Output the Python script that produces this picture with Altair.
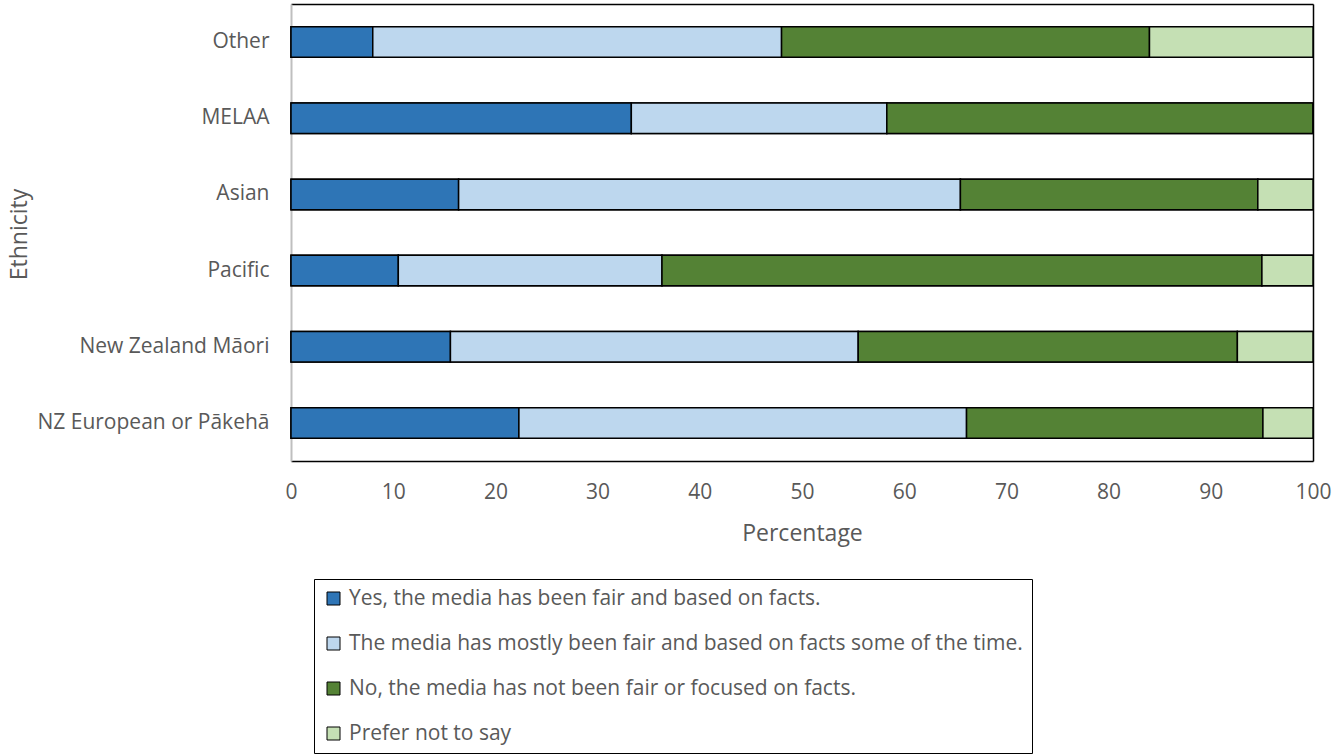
import altair as alt
import pandas as pd

ethnicities = ["Other", "MELAA", "Asian", "Pacific", "New Zealand Māori", "NZ European or Pākehā"]
responses = [
    "Yes, the media has been fair and based on facts.",
    "The media has mostly been fair and based on facts some of the time.",
    "No, the media has not been fair or focused on facts.",
    "Prefer not to say",
]
colors = ["#2E75B6", "#BDD7EE", "#548235", "#C5E0B4"]

yes_vals = [8.0, 33.3, 16.4, 10.5, 15.6, 22.3]
mostly_vals = [40.0, 25.0, 49.1, 25.8, 39.9, 43.8]
no_vals = [36.0, 41.7, 29.1, 58.7, 37.1, 29.0]
prefer_vals = [16.0, 0.0, 5.4, 5.0, 7.4, 4.9]

rows = []
for i, e in enumerate(ethnicities):
    for j, (r, vals) in enumerate(zip(responses, [yes_vals, mostly_vals, no_vals, prefer_vals])):
        rows.append({"Ethnicity": e, "Response": r, "Value": vals[i], "order": j})
df = pd.DataFrame(rows)

FONT = "Open Sans"
TXT = "#595959"

base = alt.Chart(df).mark_bar(stroke="black", strokeWidth=1.5)

color_enc = alt.Color(
    "Response:N",
    scale=alt.Scale(domain=responses, range=colors),
    legend=alt.Legend(
        orient="none", legendX=23, legendY=575, title=None,
        direction="vertical", columns=1,
        symbolType="square", symbolSize=169, symbolStrokeColor="black", symbolStrokeWidth=1,
        labelFont=FONT, labelFontSize=21, labelColor=TXT, labelLimit=1000, labelOffset=5,
        rowPadding=23, padding=9, strokeColor="black",
    ),
)

y_sort = ethnicities

main = base.encode(
    x=alt.X("Value:Q", stack="zero", scale=alt.Scale(domain=[0, 100], nice=False),
            axis=alt.Axis(values=list(range(0, 101, 10)), title="Percentage", grid=False, ticks=False,
                          domain=True, domainColor="black", domainWidth=1.5, labelFlush=False,
                          labelFont=FONT, labelFontSize=21, labelColor=TXT, labelPadding=20,
                          titleFont=FONT, titleFontSize=23, titleColor=TXT, titleFontWeight="normal",
                          titlePadding=20)),
    y=alt.Y("Ethnicity:N", sort=y_sort,
            scale=alt.Scale(paddingInner=0.6, paddingOuter=0.3),
            axis=alt.Axis(title="Ethnicity", ticks=False, domain=True, domainColor="#BFBFBF", domainWidth=2,
                          labelFont=FONT, labelFontSize=21, labelColor=TXT, labelPadding=22, labelLimit=400,
                          titleFont=FONT, titleFontSize=23, titleColor=TXT, titleFontWeight="normal",
                          titleX=-265, titleY=230, titleBaseline="alphabetic")),
    color=color_enc,
    order=alt.Order("order:Q"),
)

frame = base.encode(
    x=alt.X("Value:Q", stack="zero", scale=alt.Scale(domain=[0, 100], nice=False),
            axis=alt.Axis(orient="top", labels=False, ticks=False, title=None, grid=False,
                          domainColor="black", domainWidth=1.5)),
    y=alt.Y("Ethnicity:N", sort=y_sort,
            scale=alt.Scale(paddingInner=0.6, paddingOuter=0.3),
            axis=alt.Axis(orient="right", labels=False, ticks=False, title=None,
                          domainColor="black", domainWidth=1.5)),
    color=color_enc,
    order=alt.Order("order:Q"),
)

chart = alt.layer(main, frame).resolve_axis(x="independent", y="independent").properties(
    width=1022, height=457,
    autosize=alt.AutoSizeParams(type="none"),
    padding={"left": 291, "top": 4, "right": 20, "bottom": 295},
).configure_view(stroke=None).configure_legend(strokeWidth=1.5).configure(background="white")

chart.save("out.html", embed_options={"renderer": "svg", "actions": False})
